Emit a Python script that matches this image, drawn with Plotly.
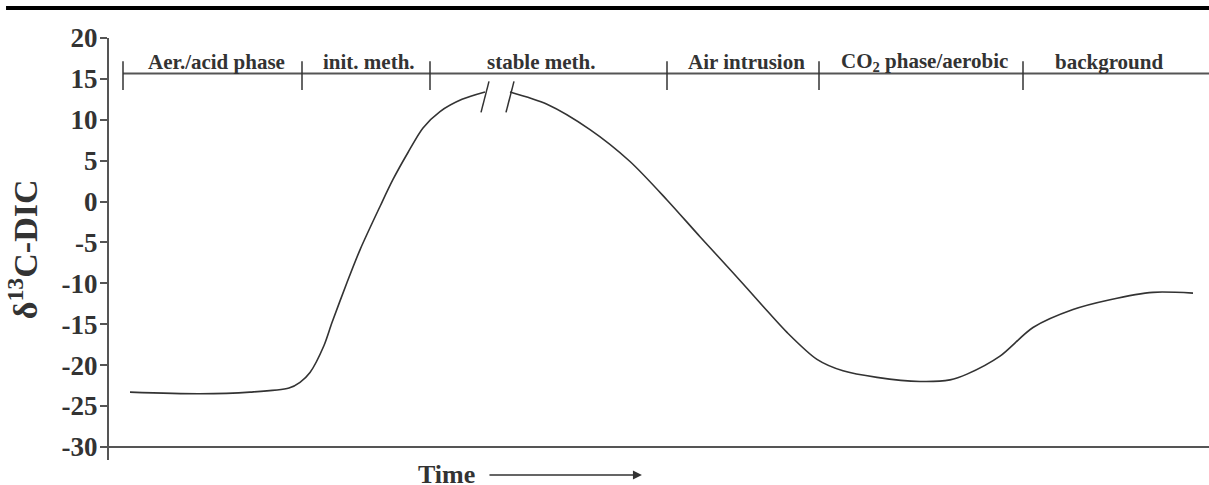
import plotly.graph_objects as go

# Schematic δ13C-DIC evolution of landfill leachate over time (arbitrary time units)
# Curve before the axis break
t_rise = [2.1, 9.1, 14.1, 18.0, 19.1, 20.1, 21.5, 22.3, 23.8, 25.1, 27.1, 28.4, 29.9, 31.4, 33.1, 35.3, 37.6]
d13c_rise = [-23.3, -23.5, -23.3, -22.8, -22.1, -20.9, -17.6, -14.8, -9.9, -5.9, -0.6, 2.7, 6.0, 9.0, 11.0,
             12.5, 13.4]

# Curve after the axis break
t_fall = [40.1, 43.8, 48.1, 52.1, 55.8, 59.1, 62.4, 65.4, 67.8, 70.8, 73.4, 76.8, 81.1, 84.1, 85.8,
          89.1, 92.4, 96.4, 100.1, 104.4, 108.4]
d13c_fall = [13.4, 11.9, 8.8, 4.9, 0.2, -4.3, -8.7, -12.8, -16.0, -19.3, -20.7, -21.5, -22.0, -21.8, -21.1,
             -18.9, -15.4, -13.2, -12.0, -11.1, -11.2]

# Phase bar
phase_bounds = [1.4, 19.3, 32.1, 55.8, 71.0, 91.4]
phase_end = 110.0
phase_labels = ["Aer./acid phase", "init. meth.", "stable meth.", "Air intrusion",
                "CO<sub>2</sub> phase/aerobic", "background"]
phase_label_t = [10.7, 26.0, 43.2, 63.7, 81.5, 100.0]
phase_level = 15.65

y_ticks = [20, 15, 10, 5, 0, -5, -10, -15, -20, -25, -30]
y_tick_labels = ["20", "15", "10", "5", "0", "-5", "-10", "-15", "-20", "-25", "-30"]

AXIS = "#555555"
INK = "#333333"
SERIF = "Liberation Serif"

fig = go.Figure()
for tt, vv in ((t_rise, d13c_rise), (t_fall, d13c_fall)):
    fig.add_trace(go.Scatter(x=tt, y=vv, mode="lines",
                             line=dict(color=INK, width=1.6, shape="spline", smoothing=0.8),
                             showlegend=False, hoverinfo="skip"))

shapes = []
# x axis drawn at the -30 level
shapes.append(dict(type="line", xref="x", yref="y", x0=0, x1=110, y0=-30, y1=-30,
                   line=dict(color=AXIS, width=2)))
# phase bar with separators
shapes.append(dict(type="line", xref="x", yref="y", x0=phase_bounds[0], x1=phase_end,
                   y0=phase_level, y1=phase_level, line=dict(color=AXIS, width=2)))
for b in phase_bounds:
    shapes.append(dict(type="line", xref="x", yref="y", x0=b, x1=b,
                       y0=phase_level - 2.0, y1=phase_level + 1.5,
                       line=dict(color=INK, width=1.5)))
# break marks at both ends of the gap
for bt, bv in ((t_rise[-1], d13c_rise[-1]), (t_fall[0], d13c_fall[0])):
    cy = bv - 0.6
    shapes.append(dict(type="line", xref="x", yref="y", x0=bt - 0.4, x1=bt + 0.4,
                       y0=cy - 1.9, y1=cy + 1.9, line=dict(color=INK, width=1.5)))
# heavy rule across the top
shapes.append(dict(type="rect", xref="paper", yref="paper", x0=-0.0936, x1=1.0,
                   y0=1.0664, y1=1.0758, fillcolor="black", line=dict(width=0)))

annotations = []
for lab, lt in zip(phase_labels, phase_label_t):
    annotations.append(dict(x=lt, y=17.1, xref="x", yref="y", text=lab, showarrow=False,
                            xanchor="center", yanchor="middle",
                            font=dict(family=SERIF, size=21, color=INK, weight="bold")))
# y-axis title
annotations.append(dict(x=-0.078, y=0.5, xref="paper", yref="paper",
                        text="δ<sup>13</sup>C-DIC", textangle=-90, showarrow=False,
                        xanchor="center", yanchor="middle",
                        font=dict(family=SERIF, size=34, color=INK, weight="bold")))
# time label with arrow
annotations.append(dict(x=0.307, y=0.005, xref="paper", yref="paper", text="Time",
                        showarrow=False, xanchor="center", yanchor="top",
                        font=dict(family=SERIF, size=26, color=INK, weight="bold")))
annotations.append(dict(x=0.4845, y=-0.0355, xref="paper", yref="paper", text="",
                        showarrow=True, ax=-154, ay=0, axref="pixel", ayref="pixel",
                        arrowhead=2, arrowsize=1.2, arrowwidth=1.5, arrowcolor=INK))

fig.update_layout(
    width=1209, height=485,
    margin=dict(l=109, r=0, t=38, b=25),
    paper_bgcolor="white", plot_bgcolor="white",
    shapes=shapes, annotations=annotations,
    xaxis=dict(range=[0, 110], visible=False, fixedrange=True),
    yaxis=dict(range=[-31.6, 20], tickvals=y_ticks, ticktext=y_tick_labels,
               showgrid=False, zeroline=False, showline=True, linecolor=AXIS, linewidth=2,
               ticks="outside", ticklen=7, tickwidth=2, tickcolor=AXIS,
               ticklabelstandoff=-3,
               tickfont=dict(family=SERIF, size=27, color=INK, weight="bold")),
)

fig.write_html("out.html")
